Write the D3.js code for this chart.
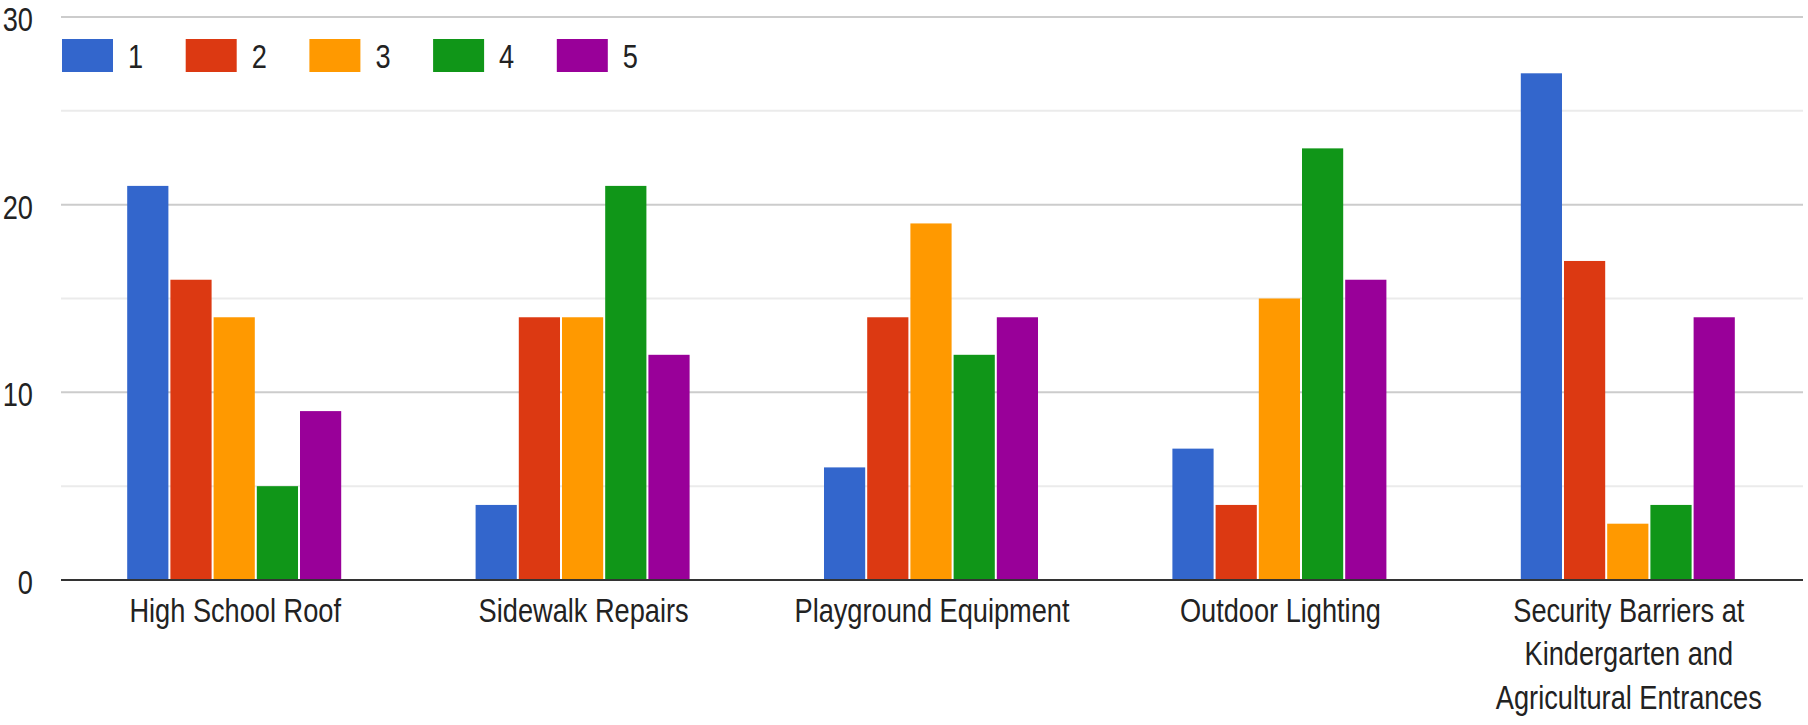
<!DOCTYPE html>
<html>
<head>
<meta charset="utf-8">
<script src="https://cdn.jsdelivr.net/npm/d3@7"></script>
<style>
  body { margin: 0; background: #fff; }
  text { font-family: "Liberation Sans", Arial, sans-serif; fill: #222; }
</style>
</head>
<body>
<div class="canvas"></div>
<script>
// data
const categories = ['High School Roof', 'Sidewalk Repairs', 'Playground Equipment', 'Outdoor Lighting', 'Security Barriers at Kindergarten and Agricultural Entrances']
const seriesNames = ['1', '2', '3', '4', '5']
const series1 = [21, 4, 6, 7, 27]
const series2 = [16, 14, 14, 4, 17]
const series3 = [14, 14, 19, 15, 3]
const series4 = [5, 21, 12, 23, 4]
const series5 = [9, 12, 14, 16, 14]
const yTicks = [0, 10, 20, 30]
const yMinorTicks = [5, 15, 25]
const colours = ['#3366cc', '#dc3912', '#ff9900', '#109618', '#990099']

const allSeries = [series1, series2, series3, series4, series5]

const width = 1808
const height = 725
const margin = { top: 17, right: 5, bottom: 145, left: 61 }
const fontSize = 27.2
const stretch = 1.25

const svg = d3.select('.canvas')
  .append('svg')
    .attr('width', width)
    .attr('height', height)

const y = d3.scaleLinear()
  .domain([0, 30])
  .range([height - margin.bottom, margin.top])

const x0 = d3.scaleBand()
  .domain(categories)
  .range([margin.left, width - margin.right])
  .paddingInner(0.38)
  .paddingOuter(0.19)

const x1 = d3.scaleBand()
  .domain(seriesNames)
  .range([0, x0.bandwidth()])

// gridlines
svg.append('g').selectAll('line')
  .data(yMinorTicks)
  .enter().append('line')
    .attr('x1', margin.left)
    .attr('x2', width - margin.right)
    .attr('y1', d => y(d))
    .attr('y2', d => y(d))
    .attr('stroke', '#ebebeb')
    .attr('stroke-width', 2)

svg.append('g').selectAll('line')
  .data(yTicks.filter(d => d !== 0))
  .enter().append('line')
    .attr('x1', margin.left)
    .attr('x2', width - margin.right)
    .attr('y1', d => y(d))
    .attr('y2', d => y(d))
    .attr('stroke', '#cccccc')
    .attr('stroke-width', 2)

// y labels (baseline placed so the digits sit centred on the line)
svg.append('g').selectAll('text')
  .data(yTicks)
  .enter().append('text')
    .attr('transform', d => `translate(33, ${y(d) + 14}) scale(1, ${stretch})`)
    .attr('text-anchor', 'end')
    .attr('font-size', fontSize)
    .attr('fill', '#444')
    .text(d => d)

// bars
const groups = svg.append('g').selectAll('g')
  .data(categories)
  .enter().append('g')
    .attr('transform', d => `translate(${x0(d)}, 0)`)

groups.selectAll('rect')
  .data((d, i) => seriesNames.map((s, j) => ({ s, v: allSeries[j][i] })))
  .enter().append('rect')
    .attr('x', d => x1(d.s))
    .attr('width', x1.bandwidth() - 2)
    .attr('y', d => y(d.v))
    .attr('height', d => y(0) - y(d.v))
    .attr('fill', (d, j) => colours[j])

// baseline
svg.append('line')
  .attr('x1', margin.left)
  .attr('x2', width - margin.right)
  .attr('y1', y(0))
  .attr('y2', y(0))
  .attr('stroke', '#333')
  .attr('stroke-width', 2)

// category labels with wrapping
function wrap(label, maxWidth) {
  const words = label.split(' ')
  const tmp = svg.append('text').attr('font-size', fontSize)
  const lines = []
  let line = []
  words.forEach(w => {
    const test = line.concat(w).join(' ')
    tmp.text(test)
    if (tmp.node().getComputedTextLength() > maxWidth && line.length) {
      lines.push(line.join(' '))
      line = [w]
    } else {
      line.push(w)
    }
  })
  lines.push(line.join(' '))
  tmp.remove()
  return lines
}

const labels = svg.append('g').selectAll('text')
  .data(categories)
  .enter().append('text')
    .attr('transform', d => `translate(${x0(d) + x0.bandwidth() / 2}, 622) scale(1, ${stretch})`)
    .attr('text-anchor', 'middle')
    .attr('font-size', fontSize)

labels.each(function(d) {
  const lines = wrap(d, 315)
  d3.select(this).selectAll('tspan')
    .data(lines)
    .enter().append('tspan')
      .attr('x', 0)
      .attr('y', (l, i) => i * 34.8)
      .text(l => l)
})

// legend
const legend = svg.append('g')
  .attr('transform', 'translate(62, 39)')

const items = legend.selectAll('g')
  .data(seriesNames)
  .enter().append('g')
    .attr('transform', (d, i) => `translate(${i * 123.7}, 0)`)

items.append('rect')
  .attr('width', 51)
  .attr('height', 33)
  .attr('fill', (d, i) => colours[i])

items.append('text')
  .attr('transform', `translate(66, 29) scale(1, ${stretch})`)
  .attr('font-size', fontSize)
  .text(d => d)
</script>
</body>
</html>
